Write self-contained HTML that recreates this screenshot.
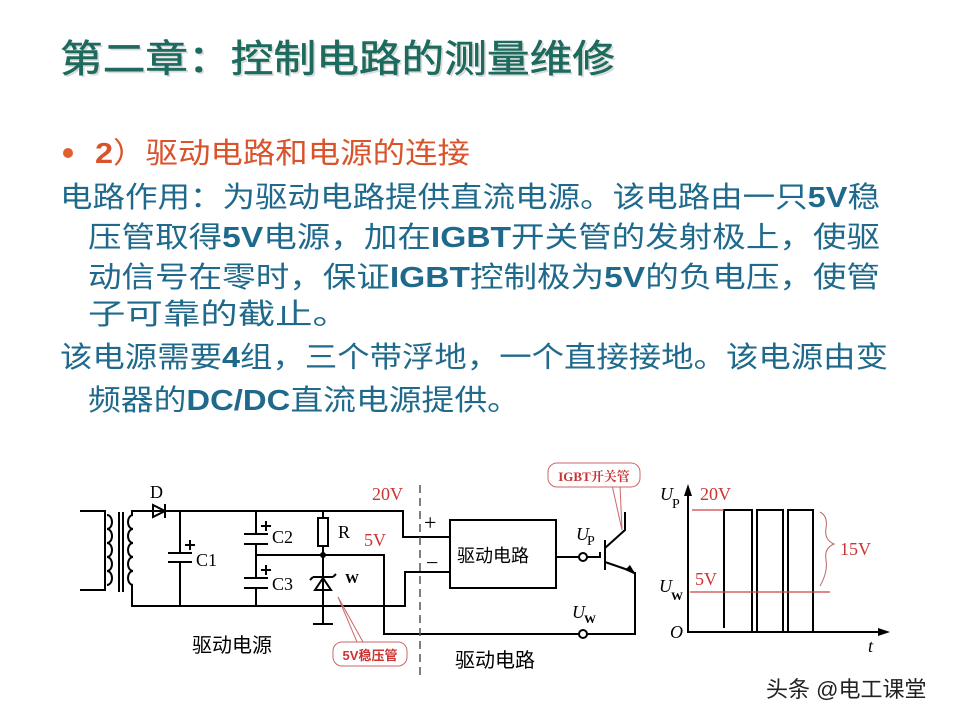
<!DOCTYPE html>
<html><head><meta charset="utf-8"><style>
body{margin:0;background:#fff}
svg{display:block}
.cn{font-family:"Liberation Sans","Noto Sans CJK SC",sans-serif}
.sf{font-family:"Liberation Serif","Noto Serif CJK SC",serif}
</style></head><body>
<svg width="960" height="720" viewBox="0 0 960 720" xmlns="http://www.w3.org/2000/svg">
<rect width="960" height="720" fill="#fff"/>
<g class="cn">
<text x="60" y="72" font-size="38" fill="#999" opacity="0.35" textLength="555" lengthAdjust="spacingAndGlyphs" transform="translate(2,2)">第二章：控制电路的测量维修</text>
<text x="60" y="72" font-size="38" fill="#1d6a5e" stroke="#1d6a5e" stroke-width="0.6" textLength="555" lengthAdjust="spacingAndGlyphs">第二章：控制电路的测量维修</text>
<circle cx="68" cy="153" r="5" fill="#e0602e"/>
<text x="95" y="163" font-size="29" fill="#d9532b" textLength="375" lengthAdjust="spacingAndGlyphs"><tspan font-weight="bold">2</tspan>）驱动电路和电源的连接</text>
<g fill="#1f6a8c" font-size="29">
<text x="60" y="207" textLength="820" lengthAdjust="spacingAndGlyphs">电路作用：为驱动电路提供直流电源。该电路由一只<tspan font-weight="bold">5V</tspan>稳</text>
<text x="88" y="247" textLength="792" lengthAdjust="spacingAndGlyphs">压管取得<tspan font-weight="bold">5V</tspan>电源，加在<tspan font-weight="bold">IGBT</tspan>开关管的发射极上，使驱</text>
<text x="88" y="287" textLength="792" lengthAdjust="spacingAndGlyphs">动信号在零时，保证<tspan font-weight="bold">IGBT</tspan>控制极为<tspan font-weight="bold">5V</tspan>的负电压，使管</text>
<text x="88" y="324" textLength="262" lengthAdjust="spacingAndGlyphs">子可靠的截止。</text>
<text x="60" y="367" textLength="828" lengthAdjust="spacingAndGlyphs">该电源需要<tspan font-weight="bold">4</tspan>组，三个带浮地，一个直接接地。该电源由变</text>
<text x="88" y="410" textLength="432" lengthAdjust="spacingAndGlyphs">频器的<tspan font-weight="bold">DC/DC</tspan>直流电源提供。</text>
</g>
</g>
<g stroke="#000" stroke-width="2" fill="none">
<path d="M80 511 H105 V590 H80"/>
<path d="M107 515 a5 7 0 0 1 0 14 a5 7 0 0 1 0 14 a5 7 0 0 1 0 14 a5 7 0 0 1 0 14 a5 7 0 0 1 0 14" />
<line x1="119" y1="512" x2="119" y2="592"/><line x1="123" y1="512" x2="123" y2="592"/>
<path d="M133 515 a5 7 0 0 0 0 14 a5 7 0 0 0 0 14 a5 7 0 0 0 0 14 a5 7 0 0 0 0 14 a5 7 0 0 0 0 14" />
<path d="M132 515 V511 H403 V537 H450"/>
<path d="M132 585 V606 H405 V572 H450"/>
<line x1="180" y1="511" x2="180" y2="553"/><line x1="168" y1="553" x2="192" y2="553"/><line x1="168" y1="562" x2="192" y2="562"/><line x1="180" y1="562" x2="180" y2="606"/>
<path d="M185 545 h10 M190 540 v10"/>
<line x1="256" y1="511" x2="256" y2="534"/><line x1="244" y1="534" x2="268" y2="534"/><line x1="244" y1="544" x2="268" y2="544"/>
<path d="M261 526 h10 M266 521 v10"/>
<line x1="256" y1="544" x2="256" y2="578"/><line x1="244" y1="578" x2="268" y2="578"/><line x1="244" y1="588" x2="268" y2="588"/><line x1="256" y1="588" x2="256" y2="606"/>
<path d="M261 570 h10 M266 565 v10"/>
<path d="M256 555 H384 V634 H635 V572"/>
<line x1="323" y1="511" x2="323" y2="518"/><rect x="318" y="518" width="10" height="28"/><line x1="323" y1="546" x2="323" y2="623"/>
<line x1="313" y1="624" x2="333" y2="624"/>
<rect x="450" y="520" width="106" height="68"/>
<line x1="556" y1="557" x2="579" y2="557"/>
<path d="M587 557 H600 V552"/>
<line x1="605" y1="540" x2="605" y2="570"/>
<path d="M605 548 L625 530 V512"/>
<path d="M605 562 L634 572"/>
<line x1="635" y1="572" x2="635" y2="634"/>
<path d="M688 494 V632 H880"/>
<path d="M724 628 V510 H752 V632 M757 632 V510 H783 V632 M788 632 V510 H813 V632"/>
</g>
<circle cx="323" cy="555" r="3" fill="#000"/>
<path d="M315 590 H331 L323 578 Z" fill="none" stroke="#000" stroke-width="2"/><path d="M313 577 H333 M313 577 l-3 3 M333 577 l3 -3" stroke="#000" stroke-width="2"/>
<path d="M153 505 V517 L165 511 Z" fill="none" stroke="#000" stroke-width="2"/><line x1="165" y1="504" x2="165" y2="518" stroke="#000" stroke-width="2"/>
<circle cx="583" cy="557" r="4" fill="#fff" stroke="#000" stroke-width="2"/>
<circle cx="583" cy="634" r="4" fill="#fff" stroke="#000" stroke-width="2"/>
<path d="M625 570 L636 575 L630 565 Z" fill="#000"/>
<path d="M688 484 L684 496 H692 Z" fill="#000"/>
<path d="M890 632 L878 628 V636 Z" fill="#000"/>
<line x1="420" y1="485" x2="420" y2="675" stroke="#555" stroke-width="1.5" stroke-dasharray="8,5"/>
<line x1="692" y1="510" x2="724" y2="510" stroke="#c44" stroke-width="1.2"/>
<line x1="690" y1="592" x2="830" y2="592" stroke="#c44" stroke-width="1.2"/>
<path d="M820 512 q8 4 6 16 q-2 12 8 16 q-10 4 -8 16 q2 12 -6 26" fill="none" stroke="#b66" stroke-width="1"/>
<path d="M338 597 L357 642 M338 597 L363 642" stroke="#c66" stroke-width="1" fill="none"/>
<rect x="333" y="642" width="74" height="24" rx="9" fill="#fff" stroke="#c66"/>
<text x="370" y="660" font-size="13" fill="#c33" font-weight="bold" text-anchor="middle" class="cn">5V稳压管</text>
<path d="M612 485 L622 530 M620 485 L622 530" stroke="#c66" stroke-width="1" fill="none"/>
<rect x="548" y="463" width="92" height="24" rx="9" fill="#fff" stroke="#c66"/>
<text x="594" y="481" font-size="13" fill="#c33" font-weight="bold" text-anchor="middle" class="sf">IGBT开关管</text>
<g class="sf" font-size="18">
<text x="150" y="498">D</text>
<text x="196" y="566">C1</text>
<text x="272" y="543">C2</text>
<text x="272" y="590">C3</text>
<text x="338" y="538">R</text>
<text x="345" y="583" font-weight="bold" font-size="14">W</text>
<text x="372" y="500" fill="#c33" font-size="18">20V</text>
<text x="364" y="546" fill="#c33" font-size="18">5V</text>
<text x="424" y="530" font-size="22">+</text>
<text x="426" y="570" font-size="22">−</text>
<text x="576" y="540" font-style="italic">U</text><text x="587" y="545" font-size="14">P</text>
<text x="572" y="618" font-style="italic">U</text><text x="584" y="623" font-size="12" font-weight="bold">W</text>
<text x="660" y="500" font-style="italic">U</text><text x="672" y="508" font-size="14">P</text>
<text x="700" y="500" fill="#c33">20V</text>
<text x="659" y="592" font-style="italic">U</text><text x="671" y="600" font-size="12" font-weight="bold">W</text>
<text x="695" y="585" fill="#c33">5V</text>
<text x="840" y="555" fill="#c33">15V</text>
<text x="670" y="638" font-style="italic">O</text>
<text x="868" y="652" font-style="italic">t</text>
</g>
<text x="192" y="652" font-size="20" class="cn">驱动电源</text>
<text x="455" y="667" font-size="20" class="cn">驱动电路</text>
<text x="457" y="562" font-size="18" class="cn">驱动电路</text>
<text x="766" y="697" font-size="22" fill="#222" class="cn">头条 @电工课堂</text>
</svg>
</body></html>
